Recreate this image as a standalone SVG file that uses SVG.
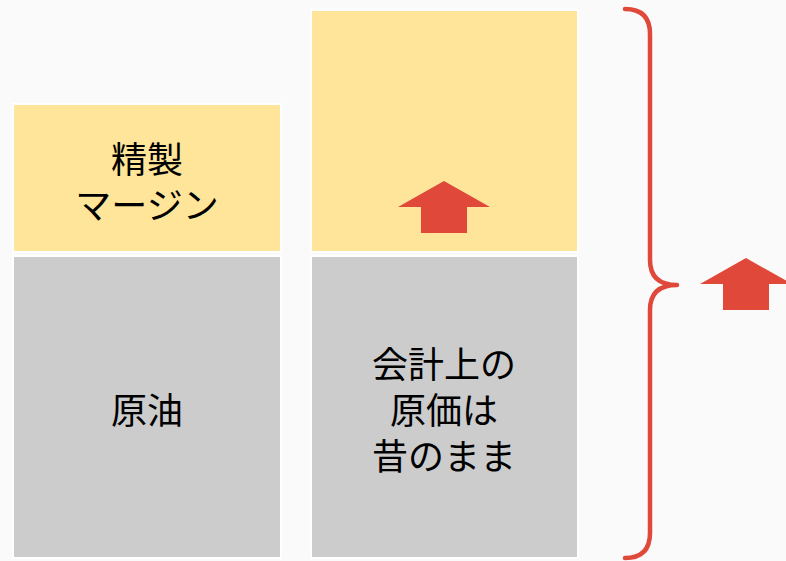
<svg xmlns="http://www.w3.org/2000/svg" width="786" height="561" viewBox="0 0 786 561">
<style>
.y{fill:#FFE599;stroke:#FFFFFF;stroke-width:2}
.g{fill:#CCCCCC;stroke:#FFFFFF;stroke-width:2}
.t{font-family:"Noto Sans CJK JP","Noto Sans",sans-serif;font-size:36px;font-weight:400;fill:#000000;text-anchor:middle;dominant-baseline:central}
.a{fill:#E0483A}
</style>
<defs>
<path id="arrow" d="M0,-26 L46,0 L23,0 L23,26 L-23,26 L-23,0 L-46,0 Z"/>
</defs>
<rect width="786" height="561" fill="#FAFAFA"/>
<g id="margin-left">
<rect class="y" x="13" y="104" width="268" height="148"/>
<text class="t" x="147" y="157">精製</text>
<text class="t" x="147" y="203">マージン</text>
</g>
<g id="crude-left">
<rect class="g" x="13" y="256" width="268" height="302"/>
<text class="t" x="147" y="408">原油</text>
</g>
<g id="margin-right">
<rect class="y" x="311" y="10" width="267" height="242"/>
<use href="#arrow" class="a" x="444" y="207"/>
</g>
<g id="cost-right">
<rect class="g" x="311" y="256" width="267" height="302"/>
<text class="t" x="444" y="362">会計上の</text>
<text class="t" x="444" y="408">原価は</text>
<text class="t" x="444" y="454">昔のまま</text>
</g>
<g id="connectors">
<path d="M625,9 Q650,9 650,34 L650,260 Q650,285 677,285 Q650,285 650,310 L650,533 Q650,558 625,558" fill="none" stroke="#E0483A" stroke-width="4.5" stroke-linecap="round" stroke-linejoin="round"/>
<use href="#arrow" class="a" x="746" y="284"/>
</g>
</svg>
